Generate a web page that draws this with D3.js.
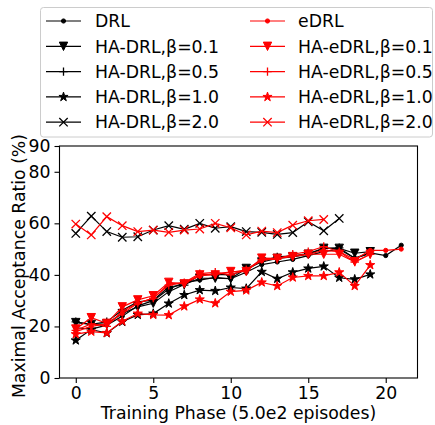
<!DOCTYPE html>
<html><head><meta charset="utf-8">
<script src="https://cdn.jsdelivr.net/npm/d3@7"></script>
<style>body{margin:0;background:#fff} svg{display:block} text{font-family:"DejaVu Sans",sans-serif;font-size:17.3px;fill:#000}</style>
</head><body><svg id="c" width="435" height="425"></svg>
<script>
const seriesNames = ["DRL","HA-DRL,β=0.1","HA-DRL,β=0.5","HA-DRL,β=1.0","HA-DRL,β=2.0",
                     "eDRL","HA-eDRL,β=0.1","HA-eDRL,β=0.5","HA-eDRL,β=1.0","HA-eDRL,β=2.0"];
const DRL        = [19.5,19,20.5,24,28,30,34.5,37,38,39,38.5,41,44,45,46,47.5,49,50,46.5,48.5,47.5,51.5];
const HA_DRL_01  = [21.5,20.8,21,25,27.6,29,33.5,36.3,38.7,38.7,38.5,42.5,45,46.4,47,48,50.3,50.3,48.4,49];
const HA_DRL_05  = [21.8,20.8,21.8,26.3,29.5,30.2,35.4,36,40,40.2,40,41.9,45.4,47,47.4,48.3,50.3,50.5,46.4,48.3];
const HA_DRL_10  = [14.6,18.8,17.4,21.8,24.5,25,28.9,32.2,34.1,33.8,35.1,34.7,41.2,38.5,41,42.5,43.3,38.9,38.3,40.2];
const HA_DRL_20  = [56.1,62.8,56.8,54.6,54.8,57.4,59.1,57.7,60.0,58.1,58.7,56.8,56.5,55.7,56.4,60.6,57.1,61.9];
const eDRL       = [18,20,21,25,29,31,36.5,37,39.5,40.5,41,42,45.5,46.5,47.5,48,49.5,49,46,49.5,49.5,50];
const HA_eDRL_01 = [19,23.4,21.2,27.6,30.3,31.9,37.1,36.5,40,40,41.3,41.3,46.5,46.4,47.1,48,48,48,45.1,48];
const HA_eDRL_05 = [18.5,21,20,26,29,31,36,37,40.5,41,40,42,46,46,48,49,51,49,45,48];
const HA_eDRL_10 = [17,18,17.5,22,25,24.5,24.4,27.8,30.5,29,33.5,34,37.1,35.7,39,39.6,39.6,41,35.7,43.8];
const HA_eDRL_20 = [59.7,55.5,62.6,59.1,56.8,57.4,56.5,57.4,57.8,60.0,58.3,55.5,57.0,56.4,59.3,61.0,61.5];
const xTicks = [0,5,10,15,20];
const yTicks = [0,20,40,60,80,90];
const xLabel = "Training Phase (5.0e2 episodes)";
const yLabel = "Maximal Acceptance Ratio (%)";

const data = [DRL,HA_DRL_01,HA_DRL_05,HA_DRL_10,HA_DRL_20,eDRL,HA_eDRL_01,HA_eDRL_05,HA_eDRL_10,HA_eDRL_20];
const colors = ["#000","#000","#000","#000","#000","#f00","#f00","#f00","#f00","#f00"];
const markers = ["dot","tri","plus","star","x","dot","tri","plus","star","x"];

const svg = d3.select("#c");
const L=59.5, R=417.5, T=146, B=378;
const x = d3.scaleLinear().domain([-1.05,22.05]).range([L,R]);
const y = d3.scaleLinear().domain([0,90]).range([B,T]);

function starPath(r){const ri=r*0.381966;let p=[];for(let i=0;i<10;i++){const a=-Math.PI/2+i*Math.PI/5;const rr=i%2?ri:r;p.push([rr*Math.cos(a),rr*Math.sin(a)]);}return "M"+p.map(d=>d.join(",")).join("L")+"Z";}
function drawMarker(g,type,color){
  const s=4.2;
  if(type==="dot") g.append("circle").attr("r",2.1).attr("fill",color).attr("stroke",color).attr("stroke-width",1);
  else if(type==="tri") g.append("path").attr("d",`M${-s},${-s}L${s},${-s}L0,${s}Z`).attr("fill",color).attr("stroke",color).attr("stroke-width",1);
  else if(type==="plus") g.append("path").attr("d",`M${-s},0H${s}M0,${-s}V${s}`).attr("stroke",color).attr("stroke-width",1.3).attr("fill","none");
  else if(type==="star") g.append("path").attr("d",starPath(s+0.6)).attr("fill",color).attr("stroke",color).attr("stroke-width",1);
  else if(type==="x") g.append("path").attr("d",`M${-s},${-s}L${s},${s}M${-s},${s}L${s},${-s}`).attr("stroke",color).attr("stroke-width",1.3).attr("fill","none");
}

// axes
const xa = svg.append("g").attr("transform",`translate(0,${B})`)
  .call(d3.axisBottom(x).tickValues(xTicks).tickSize(5).tickPadding(4).tickFormat(d3.format("d")));
const ya = svg.append("g").attr("transform",`translate(${L},0)`)
  .call(d3.axisLeft(y).tickValues(yTicks).tickSize(5).tickPadding(4).tickFormat(d3.format("d")));
[xa,ya].forEach(a=>{a.select(".domain").remove();a.selectAll("line").attr("stroke","#000").attr("stroke-width",1.1);
  a.selectAll("text").attr("font-size",17.3).attr("font-family","DejaVu Sans").attr("fill","#000");});

// series
const line = d3.line().x((d,i)=>x(i)).y(d=>y(d));
data.forEach((arr,k)=>{
  const g=svg.append("g");
  g.append("path").attr("d",line(arr)).attr("fill","none").attr("stroke",colors[k]).attr("stroke-width",1.2);
  arr.forEach((v,i)=>{drawMarker(g.append("g").attr("transform",`translate(${x(i)},${y(v)})`),markers[k],colors[k]);});
});

// frame
svg.append("rect").attr("x",L).attr("y",T).attr("width",R-L).attr("height",B-T).attr("fill","none").attr("stroke","#000").attr("stroke-width",1.1);

// labels
svg.append("text").attr("x",(L+R)/2).attr("y",419).attr("text-anchor","middle").text(xLabel);
svg.append("text").attr("transform",`translate(25,${266}) rotate(-90)`).attr("text-anchor","middle").text(yLabel);

// legend
const lg=svg.append("g");
lg.append("rect").attr("x",40.5).attr("y",7.5).attr("width",392).attr("height",129.5).attr("rx",3)
  .attr("fill","#fff").attr("fill-opacity",0.8).attr("stroke","#ccc").attr("stroke-width",1);
const rowY=[21,46.3,71.6,96.9,122.2];
seriesNames.forEach((n,k)=>{
  const col=k<5?0:1, row=k%5;
  const x0=col?250:46, tx=col?298:95, yy=rowY[row];
  lg.append("line").attr("x1",x0).attr("x2",x0+35).attr("y1",yy).attr("y2",yy).attr("stroke",colors[k]).attr("stroke-width",1.2);
  drawMarker(lg.append("g").attr("transform",`translate(${x0+17.5},${yy})`),markers[k],colors[k]);
  lg.append("text").attr("x",tx).attr("y",yy).attr("dy","0.36em").text(n);
});
</script></body></html>
